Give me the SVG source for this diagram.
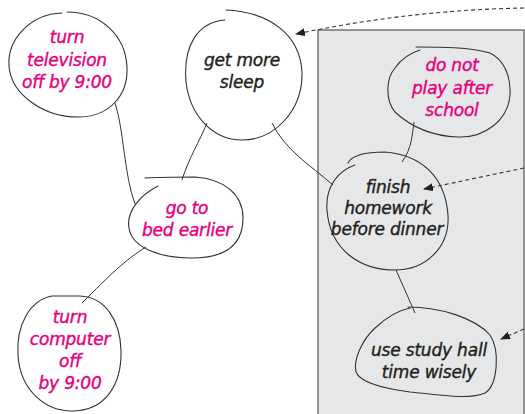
<svg xmlns="http://www.w3.org/2000/svg" width="525" height="414" viewBox="0 0 525 414">
<style>
.blob{fill:none;stroke:#333;stroke-width:1.1;stroke-linecap:round}
.link{fill:none;stroke:#333;stroke-width:1}
.dash{fill:none;stroke:#333;stroke-width:1.1;stroke-dasharray:4 3}
.t{font-family:"DejaVu Sans","Liberation Sans",sans-serif;font-style:italic;font-size:17px;text-anchor:middle;letter-spacing:-0.2px;stroke-width:0.4px}
.pink{fill:#e6007e;stroke:#e6007e}
.dark{fill:#231f20;stroke:#231f20}
</style>
<defs>
<marker id="ah" viewBox="0 0 10 8" refX="9" refY="4" markerWidth="10" markerHeight="8" markerUnits="userSpaceOnUse" orient="auto">
<path d="M0 0 L10 4 L0 8 Z" fill="#231f20"/>
</marker>
</defs>
<rect x="318" y="30" width="206" height="386" fill="#e6e7e9" stroke="#555" stroke-width="1.2"/>
<g id="connectors">
<path class="link" d="M115 103 C 124 130, 124 175, 135 204"/>
<path class="link" d="M207 123 C 200 140, 188 160, 182 180"/>
<path class="link" d="M272 123 C 285 150, 310 165, 333 185"/>
<path class="link" d="M414 122 C 412 135, 412 148, 402 162"/>
<path class="link" d="M396 270 L 415 313"/>
<path class="link" d="M146 247 C 125 260, 110 275, 82 303"/>
<path class="dash" d="M524 8 Q 410 10 296 34" marker-end="url(#ah)"/>
<path class="dash" d="M524 168 L 424 189" marker-end="url(#ah)"/>
<path class="dash" d="M524 329 L 501 339" marker-end="url(#ah)"/>
</g>
<g id="n_tv">
<path class="blob" d="M62 13 C 30 14, 7 40, 9 66 C 11 95, 45 118, 80 117 C 110 116, 128 95, 127 68 C 126 35, 100 12, 67 12"/>
<text class="t pink" x="67" y="43">turn</text>
<text class="t pink" x="67" y="66">television</text>
<text class="t pink" x="67" y="88">off by 9:00</text>
</g>
<g id="n_sleep">
<path class="blob" d="M226 10 C 270 12, 300 35, 302 72 C 303 110, 275 140, 242 140 C 212 140, 190 115, 186 82 C 183 45, 198 22, 225 20"/>
<text class="t dark" x="242" y="66">get more</text>
<text class="t dark" x="242" y="88">sleep</text>
</g>
<g id="n_play">
<path class="blob" d="M416 47 C 440 47, 470 47, 490 53 C 505 60, 511 78, 510 95 C 508 120, 485 138, 458 137 C 430 136, 410 126, 395 112 C 385 100, 386 78, 395 68 C 402 58, 410 53, 420 50"/>
<text class="t pink" x="452" y="71">do not</text>
<text class="t pink" x="452" y="94">play after</text>
<text class="t pink" x="452" y="116">school</text>
</g>
<g id="n_finish">
<path class="blob" d="M348 163 C 352 155, 365 152, 385 152 C 420 155, 445 175, 448 215 C 450 248, 425 270, 395 270 C 360 270, 330 250, 327 210 C 325 185, 340 170, 355 165"/>
<text class="t dark" x="388" y="193">finish</text>
<text class="t dark" x="388" y="214">homework</text>
<text class="t dark" x="387" y="235">before dinner</text>
</g>
<g id="n_study">
<path class="blob" d="M408 307 C 440 307, 475 318, 490 335 C 500 350, 498 385, 485 393 C 470 400, 440 395, 410 392 C 380 388, 360 382, 356 372 C 353 360, 362 340, 375 328 C 388 316, 400 310, 410 308"/>
<text class="t dark" x="429" y="356">use study hall</text>
<text class="t dark" x="429" y="378">time wisely</text>
</g>
<g id="n_bed">
<path class="blob" d="M145 178 C 160 177, 180 177, 195 177 C 225 179, 243 195, 243 218 C 243 245, 225 258, 192 258 C 160 258, 132 248, 129 228 C 126 212, 140 195, 158 186"/>
<text class="t pink" x="187" y="214">go to</text>
<text class="t pink" x="187" y="236">bed earlier</text>
</g>
<g id="n_computer">
<path class="blob" d="M52 296 C 30 300, 16 325, 18 355 C 20 390, 45 411, 72 411 C 105 411, 122 385, 121 350 C 120 320, 105 297, 80 296 C 68 296, 58 296, 52 296"/>
<text class="t pink" x="70" y="323">turn</text>
<text class="t pink" x="70" y="345">computer</text>
<text class="t pink" x="70" y="367">off</text>
<text class="t pink" x="70" y="389">by 9:00</text>
</g>
</svg>
